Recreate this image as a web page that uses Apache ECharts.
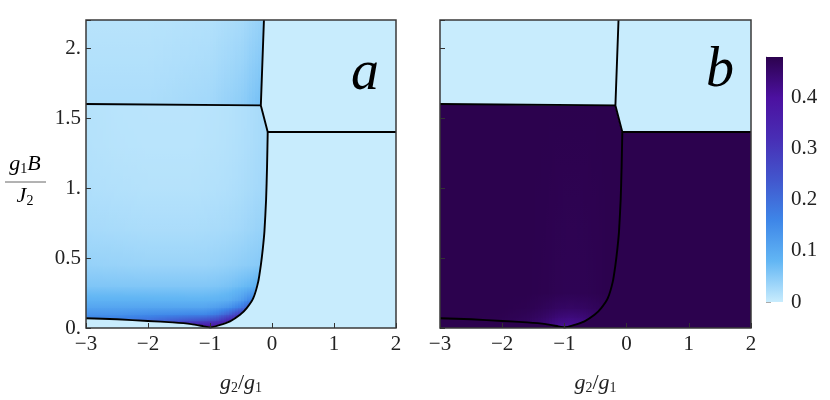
<!DOCTYPE html>
<html>
<head>
<meta charset="utf-8">
<script src="https://cdn.jsdelivr.net/npm/echarts@6/dist/echarts.min.js"></script>
<style>
  html, body {margin: 0; padding: 0; background: #fff;}
  #chart {width: 830px; height: 400px;}
</style>
</head>
<body>
<div id="chart"></div>
<script>
/* phase diagram: g1B/J2 against g2/g1, two panels + colorbar */

// phase boundaries, points are [g2/g1, g1B/J2]
const upperLine = [[-3, 1.60], [-0.18, 1.59]]
const rightLine = [[-0.069, 1.40], [2, 1.40]]
const kinkLine = [[-0.13, 2.2], [-0.18, 1.59], [-0.069, 1.40]]
const phaseCurve = [
  [-0.069, 1.40], [-0.08, 1.15], [-0.095, 0.92], [-0.122, 0.69], [-0.148, 0.567],
  [-0.18, 0.449], [-0.222, 0.331], [-0.302, 0.213], [-0.408, 0.142], [-0.516, 0.094],
  [-0.677, 0.048], [-0.85, 0.02], [-1.0, 0.004], [-1.1, 0.012], [-1.3, 0.028],
  [-1.6, 0.04], [-2.0, 0.05], [-2.5, 0.062], [-3.0, 0.07]
]

// panel a, lower left phase (rows follow fieldY, columns follow fieldX)
const fieldX = [-3, -2.5, -2, -1.6, -1.3, -1.1, -0.9, -0.7, -0.5, -0.35, -0.2, -0.05]
const fieldY = [0, 0.03, 0.06, 0.1, 0.15, 0.2, 0.3, 0.45, 0.7, 1.0, 1.3, 1.6]
const fieldA = [
  [0.22, 0.24, 0.28, 0.34, 0.40, 0.45, 0.45, 0.42, 0.40, 0.38, 0.35, 0.30],
  [0.21, 0.22, 0.26, 0.31, 0.36, 0.36, 0.37, 0.39, 0.38, 0.36, 0.34, 0.30],
  [0.17, 0.18, 0.20, 0.23, 0.25, 0.26, 0.28, 0.35, 0.37, 0.35, 0.33, 0.30],
  [0.14, 0.14, 0.15, 0.155, 0.16, 0.16, 0.18, 0.23, 0.31, 0.33, 0.31, 0.28],
  [0.11, 0.11, 0.11, 0.11, 0.11, 0.11, 0.12, 0.14, 0.18, 0.24, 0.28, 0.26],
  [0.088, 0.087, 0.086, 0.085, 0.084, 0.084, 0.087, 0.095, 0.12, 0.16, 0.20, 0.20],
  [0.058, 0.057, 0.056, 0.056, 0.056, 0.056, 0.058, 0.063, 0.072, 0.08, 0.095, 0.10],
  [0.040, 0.038, 0.036, 0.036, 0.036, 0.036, 0.038, 0.041, 0.045, 0.048, 0.052, 0.055],
  [0.027, 0.025, 0.023, 0.023, 0.023, 0.024, 0.025, 0.027, 0.030, 0.034, 0.038, 0.042],
  [0.019, 0.017, 0.015, 0.015, 0.015, 0.016, 0.017, 0.019, 0.022, 0.025, 0.029, 0.032],
  [0.016, 0.013, 0.012, 0.012, 0.012, 0.013, 0.014, 0.016, 0.019, 0.022, 0.026, 0.029],
  [0.015, 0.012, 0.011, 0.011, 0.011, 0.012, 0.013, 0.015, 0.018, 0.021, 0.025, 0.028]
]

// panel a, upper left phase
const topX = [-3, -2, -1, -0.5, -0.1]
const topY = [1.59, 1.9, 2.2]
const topA = [
  [0.022, 0.022, 0.030, 0.046, 0.070],
  [0.017, 0.017, 0.023, 0.035, 0.056],
  [0.013, 0.013, 0.017, 0.026, 0.043]
]

// panel b, lower left phase
const hotX = [-3, -2, -1.6, -1.3, -1.1, -0.9, -0.7, -0.5, -0.3, -0.05]
const hotY = [0, 0.04, 0.08, 0.14, 0.25, 1.6]
const fieldB = [
  [0.48, 0.47, 0.46, 0.44, 0.41, 0.41, 0.44, 0.47, 0.48, 0.48],
  [0.48, 0.475, 0.465, 0.445, 0.425, 0.42, 0.425, 0.45, 0.47, 0.48],
  [0.48, 0.478, 0.47, 0.455, 0.44, 0.435, 0.44, 0.455, 0.47, 0.48],
  [0.48, 0.48, 0.477, 0.468, 0.46, 0.458, 0.46, 0.466, 0.475, 0.48],
  [0.48, 0.48, 0.48, 0.478, 0.475, 0.474, 0.475, 0.477, 0.48, 0.48],
  [0.48, 0.48, 0.48, 0.48, 0.48, 0.48, 0.48, 0.48, 0.48, 0.48]
]

// flat phases: [panel a value, panel b value]
const lowRightVal = [0, 0.48]
const upRightVal = [0, 0]
const upLeftValB = 0

// colorbar, colours evenly spaced from 0 to cbMax
const cbMax = 0.48
const cbColors = ['#c8ecfd', '#62b6f4', '#3e86e8', '#4256cd', '#482eb5', '#4c11a0', '#2c024e']
const cbTicks = [0, 0.1, 0.2, 0.3, 0.4]
const cbTickLabels = ['0', '0.1', '0.2', '0.3', '0.4']

const xTicks = [-3, -2, -1, 0, 1, 2]
const xTickLabels = ['\u22123', '\u22122', '\u22121', '0', '1', '2']
const yTicks = [0, 0.5, 1, 1.5, 2]
const yTickLabels = ['0.', '0.5', '1.', '1.5', '2.']

const SERIF = '"Liberation Serif", "DejaVu Serif", serif'

const toColor = v => echarts.color.lerp(Math.max(0, Math.min(1, v / cbMax)), cbColors)

const findLabel = (ticks, labels) => v => {
  const i = ticks.findIndex(t => Math.abs(t - v) < 1e-9)
  return i < 0 ? '' : labels[i]
}

const cells = (xs, ys, vals) => {
  const out = []
  for (let j = 0; j < ys.length - 1; j++) {
    for (let i = 0; i < xs.length - 1; i++) {
      out.push([xs[i], xs[i + 1], ys[j], ys[j + 1],
        vals[j][i], vals[j][i + 1], vals[j + 1][i], vals[j + 1][i + 1]])
    }
  }
  return out
}

// each cell is shaded between its four corner values, in whole-pixel strips
const renderCell = (params, api) => {
  const p0 = api.coord([api.value(0), api.value(2)])
  const p1 = api.coord([api.value(1), api.value(3)])
  const v00 = api.value(4), v10 = api.value(5), v01 = api.value(6), v11 = api.value(7)
  const left = Math.round(p0[0]), right = Math.round(p1[0])
  const top = Math.round(p1[1]), bottom = Math.round(p0[1])
  const w = right - left
  const n = Math.max(1, Math.ceil(w / 3))
  const children = []
  for (let k = 0; k < n; k++) {
    const a = left + Math.round(w * k / n), b = left + Math.round(w * (k + 1) / n)
    const t = (k + 0.5) / n
    const vb = v00 + (v10 - v00) * t
    const vt = v01 + (v11 - v01) * t
    const stops = []
    for (let s = 0; s <= 6; s++) {
      stops.push({offset: s / 6, color: toColor(vt + (vb - vt) * s / 6)})
    }
    children.push({
      type: 'rect',
      shape: {x: a, y: top, width: b - a + 1, height: bottom - top + 1},
      style: {fill: {type: 'linear', x: 0, y: 0, x2: 0, y2: 1, colorStops: stops}}
    })
  }
  return {type: 'group', children}
}

const fieldSeries = (idx, xs, ys, vals) => ({
  type: 'custom', xAxisIndex: idx, yAxisIndex: idx, z: 2, silent: true, clip: true,
  encode: {x: [0, 1], y: [2, 3]},
  data: cells(xs, ys, vals),
  renderItem: renderCell
})

const regionSeries = (idx, pts, v) => ({
  type: 'custom', xAxisIndex: idx, yAxisIndex: idx, z: 3, silent: true, clip: true,
  data: [[v]],
  renderItem: (params, api) => {
    const c = toColor(api.value(0))
    return {
      type: 'polygon',
      shape: {points: pts.map(p => api.coord(p))},
      style: {fill: c, stroke: c, lineWidth: 0.8}
    }
  }
})

const lineSeries = (idx, data, smooth) => ({
  type: 'line', xAxisIndex: idx, yAxisIndex: idx, z: 4, silent: true,
  data: data, showSymbol: false, smooth: smooth,
  lineStyle: {color: '#000', width: 1.9}
})

const lowRightRegion = phaseCurve.concat([[-3, 0], [2, 0], [2, 1.40]])
const upRightRegion = kinkLine.concat([[2, 1.40], [2, 2.2]])
const upLeftRegion = [[-3, 2.2]].concat(kinkLine.slice(0, 2), [[-3, 1.60]])

const tickStyle = {inside: true, length: 5, lineStyle: {color: '#333', width: 1}}
const labelStyle = {fontFamily: SERIF, fontSize: 21, color: '#222'}
const nameRich = {
  i: {fontFamily: SERIF, fontStyle: 'italic', fontSize: 22, lineHeight: 24, color: '#222'},
  n: {fontFamily: SERIF, fontSize: 22, lineHeight: 24, color: '#222'},
  s: {fontFamily: SERIF, fontSize: 14, lineHeight: 10, verticalAlign: 'bottom', color: '#222'}
}

const panelX = idx => ({
  gridIndex: idx, type: 'value', min: -3, max: 2, interval: 1, z: 10,
  axisLine: {show: false, onZero: false}, splitLine: {show: false}, axisTick: tickStyle,
  axisLabel: Object.assign({margin: 6, formatter: findLabel(xTicks, xTickLabels)}, labelStyle),
  name: '{i|g}{s|2}{n|/}{i|g}{s|1}', nameLocation: 'middle', nameGap: 43,
  nameTextStyle: {rich: nameRich}
})

const panelY = (idx, showLabels) => ({
  gridIndex: idx, type: 'value', min: 0, max: 2.2, interval: 0.5, z: 10,
  axisLine: {show: false, onZero: false}, splitLine: {show: false}, axisTick: tickStyle,
  axisLabel: Object.assign({show: showLabels, margin: 5, formatter: findLabel(yTicks, yTickLabels)}, labelStyle)
})

const frame = {show: true, borderColor: '#3a3a3a', borderWidth: 1.5, backgroundColor: 'transparent', z: 10}

const option = {
  animation: false,
  backgroundColor: '#fff',
  grid: [
    Object.assign({left: 86, top: 20, width: 310, height: 310}, frame),
    Object.assign({left: 440, top: 20, width: 311, height: 310}, frame),
    {left: 766, top: 57, width: 17, height: 245}
  ],
  xAxis: [
    panelX(0),
    panelX(1),
    {gridIndex: 2, type: 'value', min: 0, max: 1, show: false}
  ],
  yAxis: [
    panelY(0, true),
    panelY(1, false),
    {
      gridIndex: 2, type: 'value', position: 'right', min: 0, max: cbMax, interval: 0.1,
      splitLine: {show: false},
      axisLine: {show: true, lineStyle: {color: '#aaa', width: 1}},
      axisTick: {show: true, length: 5, lineStyle: {color: '#aaa'}},
      minorTick: {show: true, splitNumber: 2, length: 3, lineStyle: {color: '#bbb'}},
      axisLabel: Object.assign({margin: 8, formatter: findLabel(cbTicks, cbTickLabels)}, labelStyle)
    }
  ],
  series: [
    // panel a
    fieldSeries(0, fieldX, fieldY, fieldA),
    fieldSeries(0, topX, topY, topA),
    regionSeries(0, lowRightRegion, lowRightVal[0]),
    regionSeries(0, upRightRegion, upRightVal[0]),
    lineSeries(0, upperLine, false),
    lineSeries(0, rightLine, false),
    lineSeries(0, kinkLine, false),
    lineSeries(0, phaseCurve, 0.2),
    // panel b
    fieldSeries(1, hotX, hotY, fieldB),
    regionSeries(1, lowRightRegion, lowRightVal[1]),
    regionSeries(1, upRightRegion, upRightVal[1]),
    regionSeries(1, upLeftRegion, upLeftValB),
    lineSeries(1, upperLine, false),
    lineSeries(1, rightLine, false),
    lineSeries(1, kinkLine, false),
    lineSeries(1, phaseCurve, 0.2),
    // colorbar
    {
      type: 'custom', xAxisIndex: 2, yAxisIndex: 2, silent: true,
      data: [[0, 1, 0, cbMax]],
      renderItem: (params, api) => {
        const p0 = api.coord([api.value(0), api.value(2)])
        const p1 = api.coord([api.value(1), api.value(3)])
        const stops = cbColors.map((c, i) => ({offset: 1 - i / (cbColors.length - 1), color: c})).reverse()
        return {
          type: 'rect',
          shape: {x: p0[0], y: p1[1], width: p1[0] - p0[0], height: p0[1] - p1[1]},
          style: {fill: {type: 'linear', x: 0, y: 0, x2: 0, y2: 1, colorStops: stops}}
        }
      }
    }
  ],
  graphic: [
    {type: 'text', z: 100, x: 365, y: 74, style: {text: 'a', font: 'italic 56px ' + SERIF, fill: '#000', align: 'center', verticalAlign: 'middle'}},
    {type: 'text', z: 100, x: 720, y: 71, style: {text: 'b', font: 'italic 56px ' + SERIF, fill: '#000', align: 'center', verticalAlign: 'middle'}},
    {type: 'text', z: 100, x: 25, y: 164, style: {text: '{i|g}{s|1}{i|B}', rich: nameRich, align: 'center', verticalAlign: 'middle'}},
    {type: 'line', z: 100, shape: {x1: 5, y1: 182, x2: 46, y2: 182}, style: {stroke: '#666', lineWidth: 1}},
    {type: 'text', z: 100, x: 25, y: 196, style: {text: '{i|J}{s|2}', rich: nameRich, align: 'center', verticalAlign: 'middle'}}
  ]
}

const mychart = echarts.init(document.getElementById('chart'))
mychart.setOption(option, true)
</script>
</body>
</html>
